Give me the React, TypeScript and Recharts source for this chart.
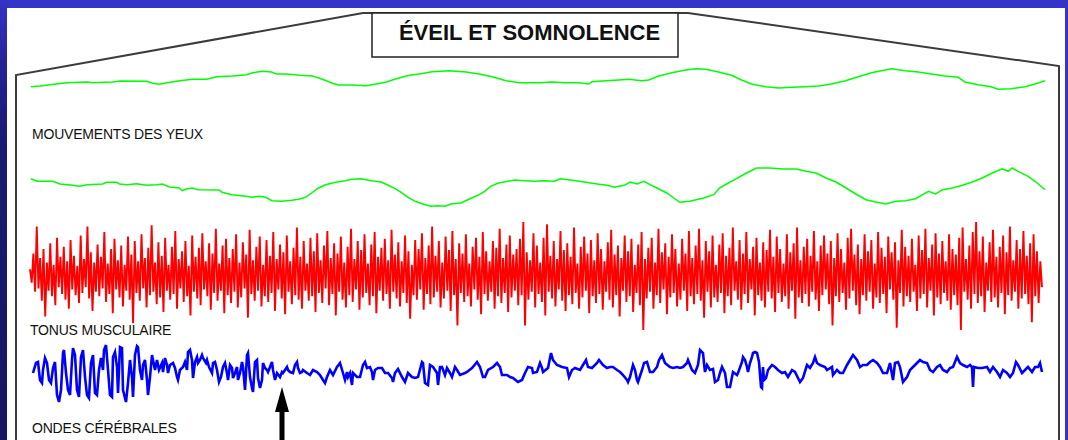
import React from 'react';
import { LineChart, Line, XAxis, YAxis } from 'recharts';

// Eye movements, upper channel: [sample, amplitude]
const eyeUpper: [number, number][] = [
  [0, 3.3], [9, 4], [19, 5.3], [36, 7.3], [56, 8], [62, 7.3], [82, 8], [89, 9], [116, 8.7], [122, 6.7],
  [129, 5.7], [136, 7.3], [149, 9.3], [162, 10.7], [176, 10.7], [186, 13.3], [202, 14], [216, 15.3], [222, 17.3], [232, 18.7],
  [241, 18], [246, 16], [256, 16], [269, 14.7], [282, 14], [292, 10.7], [302, 6.7], [308, 5], [322, 5], [336, 4.3],
  [346, 6], [356, 8], [366, 11.3], [379, 14.7], [389, 16], [402, 18.3], [419, 19.3], [436, 18], [449, 16], [462, 13.3],
  [476, 9.3], [489, 7.3], [509, 7.3], [522, 8], [536, 7.3], [549, 7.3], [559, 6], [562, 8.3], [576, 9.3], [589, 10],
  [599, 10.7], [612, 9.3], [619, 10], [629, 14], [642, 17.3], [656, 20], [666, 21.3], [676, 20.7], [689, 18], [702, 14.7],
  [712, 10], [722, 6], [736, 3.3], [749, 2], [762, 2.7], [776, 3.3], [789, 4], [802, 6], [816, 9.3], [829, 13.3],
  [842, 17.3], [856, 20], [862, 21.3], [876, 19.3], [889, 18], [902, 16], [916, 14], [929, 12.7], [936, 8], [949, 5.3],
  [962, 3.3], [969, 0.7], [982, 1.3], [996, 3.3], [1006, 6], [1016, 9.3],
];

// Eye movements, lower channel: [sample, amplitude]
const eyeLower: [number, number][] = [
  [0, 33.3], [6, 30.7], [22, 30.7], [29, 28], [42, 26.7], [49, 25.7], [56, 27.3], [72, 28], [76, 29.7], [86, 29.7],
  [89, 28], [96, 27.3], [106, 28.3], [116, 26.7], [126, 27.3], [132, 28], [139, 25], [149, 24], [152, 21.3], [156, 23],
  [162, 24], [168, 22.3], [189, 22], [192, 19.7], [202, 17.3], [216, 15.7], [222, 14.7], [229, 15.7], [236, 14.7], [242, 11.3],
  [252, 10.7], [262, 11.7], [269, 12.7], [276, 14.7], [282, 19], [289, 24], [296, 27.3], [306, 29.7], [316, 31.3], [322, 32.7],
  [332, 33.3], [342, 31.3], [352, 30], [359, 26.7], [366, 23.3], [372, 19.7], [379, 14.7], [386, 10.7], [396, 7.3], [402, 5.7],
  [409, 6.3], [416, 5.7], [422, 8], [432, 9], [439, 12.3], [449, 16.7], [456, 20.7], [462, 25.7], [469, 28.7], [479, 30.7],
  [486, 32], [496, 31.3], [506, 30.7], [516, 31.3], [526, 30.7], [532, 33.3], [542, 32], [556, 30], [569, 28], [579, 26.7],
  [586, 24.7], [596, 26.7], [602, 30], [609, 28], [616, 30.7], [622, 27.3], [629, 24], [639, 19], [646, 14], [652, 9.7],
  [662, 10.7], [676, 14], [686, 17.3], [692, 24], [699, 28], [709, 33.3], [719, 39], [729, 44], [742, 44], [756, 43],
  [769, 43], [779, 40.7], [789, 39], [799, 34], [809, 30], [819, 24], [829, 18], [839, 12.3], [849, 10], [859, 8],
  [869, 10.7], [879, 11.3], [889, 13.3], [896, 17.3], [902, 20.7], [909, 18], [916, 22.3], [926, 24], [936, 26.7], [946, 30],
  [956, 34], [966, 39], [976, 43.3], [982, 40.7], [986, 44], [992, 40.7], [1002, 35.7], [1009, 30.7], [1019, 22.3],
];

// Muscle tone, alternating swings around the baseline (one value per sample)
const muscleTone: number[] = [
  8, -4, 22, -12, 46, -9, 18, -20, 26, -34, 14, -11, 31, -16, 12, -24, 36, -8, 19, -14,
  28, -19, 15, -27, 34, -10, 20, -15, 11, -22, 38, -13, 17, -8, 46, -18, 23, -29, 14, -12,
  30, -16, 19, -9, 41, -21, 13, -14, 26, -31, 35, -10, 16, -17, 29, -25, 12, -11, 37, -19,
  21, -40, 33, -13, 15, -20, 39, -9, 18, -26, 27, -15, 47, -12, 14, -23, 32, -17, 20, -30,
  36, -11, 12, -19, 28, -14, 42, -27, 17, -9, 24, -21, 33, -16, 11, -33, 38, -12, 19, -18,
  27, -24, 40, -10, 15, -16, 31, -28, 22, -13, 44, -20, 13, -11, 29, -31, 35, -15, 18, -22,
  26, -12, 39, -26, 14, -17, 32, -9, 21, -35, 43, -14, 16, -20, 28, -11, 37, -25, 12, -16,
  34, -21, 20, -13, 41, -29, 17, -10, 30, -18, 23, -32, 38, -12, 15, -23, 27, -15, 45, -19,
  19, -27, 33, -11, 13, -20, 36, -16, 24, -30, 40, -13, 16, -22, 29, -9, 42, -24, 18, -14,
  31, -33, 22, -12, 37, -19, 14, -26, 28, -15, 44, -21, 17, -10, 33, -28, 25, -17, 39, -13,
  13, -24, 30, -16, 41, -31, 19, -11, 27, -20, 35, -14, 16, -27, 43, -12, 21, -18, 32, -25,
  15, -13, 38, -22, 24, -36, 12, -15, 34, -19, 26, -10, 40, -28, 18, -14, 29, -23, 46, -17,
  20, -12, 33, -26, 14, -18, 37, -11, 25, -29, 42, -15, 17, -42, 31, -13, 22, -21, 39, -16,
  13, -25, 28, -10, 36, -19, 19, -32, 41, -14, 24, -20, 15, -12, 33, -27, 27, -16, 44, -22,
  18, -13, 30, -30, 38, -17, 21, -11, 26, -24, 35, -15, 50, -42, 23, -19, 16, -12, 40, -26,
  29, -14, 14, -21, 36, -33, 48, -12, 20, -18, 33, -25, 17, -10, 42, -20, 25, -29, 31, -15,
  19, -23, 45, -13, 13, -27, 28, -17, 37, -11, 22, -31, 34, -16, 16, -22, 40, -14, 26, -28,
  15, -12, 32, -19, 43, -26, 21, -15, 29, -34, 18, -11, 38, -21, 24, -16, 35, -30, 12, -13,
  30, -24, 41, -46, 17, -18, 27, -12, 36, -27, 14, -15, 44, -22, 23, -10, 31, -32, 19, -17,
  39, -13, 26, -25, 13, -19, 35, -11, 22, -29, 42, -16, 18, -23, 29, -14, 44, -20, 16, -35,
  33, -12, 24, -26, 38, -17, 12, -21, 30, -13, 40, -31, 20, -16, 27, -24, 45, -11, 15, -19,
  34, -28, 22, -14, 41, -22, 17, -10, 28, -33, 36, -15, 14, -20, 32, -26, 25, -12, 43, -18,
  19, -30, 37, -13, 26, -21, 13, -16, 39, -27, 23, -11, 31, -36, 45, -17, 16, -22, 28, -14,
  35, -25, 20, -12, 42, -19, 15, -29, 29, -15, 38, -10, 22, -23, 33, -42, 18, -16, 40, -21,
  26, -13, 14, -28, 36, -18, 44, -11, 21, -24, 30, -32, 17, -15, 39, -20, 24, -12, 34, -27,
  13, -17, 41, -22, 27, -14, 19, -31, 37, -10, 23, -19, 32, -44, 16, -13, 43, -25, 28, -16,
  20, -21, 35, -12, 12, -29, 38, -18, 25, -14, 44, -26, 18, -11, 30, -33, 40, -17, 22, -23,
  33, -13, 15, -20, 39, -28, 26, -15, 21, -24, 36, -46, 45, -12, 17, -19, 29, -27, 41, -14,
  50, -22, 24, -16, 37, -30, 14, -11, 32, -21, 43, -17, 19, -26, 28, -13, 38, -32, 23, -15,
  46, -20, 16, -12, 34, -27, 26, -18, 42, -14, 20, -23, 31, -39, 39, -16, 24, -22, 15, -8,
];

// Brain waves (EEG): [sample, amplitude]
const brainWaves: [number, number][] = [
  [2, 37], [5, 47], [7, 48], [9, 30], [11, 27], [12, 40], [14, 52], [16, 47], [18, 30], [20, 27],
  [22, 42], [24, 48], [26, 15], [28, 8], [30, 20], [32, 57], [33, 60], [35, 37], [37, 20], [39, 15],
  [41, 50], [42, 62], [44, 55], [46, 20], [48, 13], [50, 53], [52, 60], [54, 33], [56, 15], [58, 12],
  [60, 47], [62, 55], [64, 17], [66, 15], [68, 40], [70, 52], [72, 40], [73, 60], [75, 65], [77, 40],
  [79, 15], [81, 13], [82, 53], [84, 58], [86, 43], [87, 17], [89, 63], [91, 62], [92, 20], [95, 8],
  [97, 27], [99, 50], [101, 33], [102, 13], [104, 55], [106, 64], [107, 63], [109, 40], [111, 30], [112, 45],
  [114, 50], [116, 30], [117, 15], [119, 33], [121, 55], [122, 50], [124, 40], [126, 50], [128, 40], [131, 47],
  [132, 38], [134, 52], [136, 45], [137, 37], [139, 45], [142, 47], [144, 42], [146, 33], [147, 30], [149, 40],
  [152, 43], [154, 48], [156, 40], [157, 58], [159, 60], [161, 50], [162, 32], [164, 48], [166, 53], [167, 47],
  [169, 50], [171, 55], [172, 52], [175, 47], [176, 50], [178, 43], [181, 37], [182, 47], [184, 48], [186, 40],
  [188, 28], [190, 33], [192, 43], [194, 47], [196, 37], [197, 30], [199, 45], [201, 42], [202, 32], [204, 37],
  [206, 43], [207, 30], [209, 37], [211, 48], [212, 43], [214, 20], [216, 55], [217, 57], [219, 33], [221, 22],
  [222, 18], [224, 48], [226, 50], [227, 32], [229, 22], [231, 30], [232, 47], [234, 42], [236, 40], [237, 38],
  [239, 43], [241, 48], [242, 40], [244, 30], [246, 37], [249, 33], [251, 38], [252, 37], [256, 43], [257, 40],
  [259, 38], [262, 37], [264, 45], [266, 48], [267, 42], [269, 37], [271, 38], [272, 40], [276, 37], [279, 35],
  [282, 40], [286, 38], [289, 35], [292, 30], [294, 27], [296, 33], [299, 40], [302, 35], [306, 43], [309, 47],
  [312, 37], [314, 30], [316, 38], [317, 33], [319, 37], [321, 25], [322, 37], [326, 33], [329, 33], [332, 45],
  [334, 48], [336, 42], [339, 43], [341, 38], [342, 30], [344, 40], [347, 42], [351, 42], [354, 37], [357, 37],
  [361, 32], [362, 28], [364, 37], [367, 41], [371, 33], [374, 28], [377, 37], [381, 33], [384, 32], [387, 33],
  [391, 48], [392, 47], [394, 27], [397, 25], [399, 45], [402, 43], [406, 37], [407, 25], [409, 43], [411, 43],
  [414, 35], [416, 42], [419, 37], [421, 33], [424, 43], [426, 40], [429, 35], [434, 37], [436, 38], [441, 42],
  [446, 48], [449, 43], [452, 33], [454, 33], [457, 40], [462, 43], [466, 47], [469, 43], [471, 35], [476, 35],
  [479, 33], [482, 32], [487, 28], [491, 30], [494, 37], [497, 43], [501, 42], [502, 37], [506, 38], [509, 47],
  [511, 42], [512, 38], [517, 42], [520, 57], [522, 50], [526, 45], [531, 43], [536, 42], [538, 33], [541, 40],
  [544, 42], [549, 40], [552, 45], [555, 50], [557, 43], [561, 42], [566, 47], [568, 50], [572, 45], [576, 42],
  [579, 43], [582, 43], [586, 40], [589, 38], [592, 35], [596, 30], [597, 28], [599, 33], [602, 45], [604, 40],
  [606, 30], [607, 28], [611, 40], [613, 47], [616, 48], [619, 38], [622, 38], [626, 43], [628, 50], [631, 55],
  [634, 47], [639, 43], [642, 42], [646, 43], [649, 42], [652, 43], [656, 47], [657, 50], [661, 40], [664, 37],
  [667, 45], [669, 60], [672, 57], [673, 47], [674, 38], [676, 45], [679, 40], [682, 41], [684, 28], [687, 30],
  [689, 37], [691, 43], [694, 37], [696, 23], [699, 23], [702, 38], [706, 35], [707, 37], [711, 48], [712, 53],
  [714, 50], [716, 43], [717, 38], [719, 47], [721, 53], [722, 57], [724, 58], [726, 57], [728, 48], [730, 23],
  [731, 22], [732, 43], [733, 30], [735, 32], [737, 40], [741, 45], [744, 43], [747, 40], [751, 37], [754, 38],
  [757, 33], [761, 40], [764, 38], [769, 28], [772, 32], [776, 45], [779, 42], [782, 47], [784, 53], [786, 47],
  [789, 45], [794, 43], [796, 40], [801, 43], [802, 35], [806, 40], [809, 37], [812, 37], [816, 45], [819, 50],
  [822, 55], [826, 50], [829, 43], [832, 45], [836, 45], [839, 48], [842, 50], [846, 47], [849, 43], [852, 37],
  [856, 37], [859, 47], [862, 30], [864, 47], [867, 48], [869, 43], [872, 28], [876, 33], [879, 40], [882, 43],
  [886, 47], [889, 50], [892, 48], [896, 47], [899, 40], [902, 38], [906, 43], [909, 45], [912, 40], [916, 38],
  [919, 42], [922, 43], [926, 53], [929, 47], [932, 45], [936, 43], [939, 45], [941, 43], [942, 23], [943, 43],
  [947, 42], [951, 42], [956, 43], [959, 38], [962, 43], [966, 38], [969, 33], [972, 40], [976, 37], [979, 33],
  [982, 37], [985, 48], [987, 45], [991, 37], [994, 40], [997, 43], [1001, 38], [1004, 43], [1007, 43], [1009, 47],
  [1011, 38],
];

// Text
const title = 'ÉVEIL ET SOMNOLENCE';
const labelEyes = 'MOUVEMENTS DES YEUX';
const labelMuscle = 'TONUS MUSCULAIRE';
const labelBrain = 'ONDES CÉRÉBRALES';

type Row = { t: number; v: number };
const pairsToRows = (pairs: [number, number][]): Row[] => pairs.map(([t, v]) => ({ t, v }));
const seriesToRows = (values: number[]): Row[] => values.map((v, t) => ({ t, v }));

const FONT = '"Liberation Sans", Arial, sans-serif';
const PAD = 4;

type TraceProps = {
  rows: Row[];
  left: number;
  top: number;
  width: number;
  height: number;
  xDomain: [number, number];
  yDomain: [number, number];
  color: string;
  strokeWidth: number;
};

function Trace({ rows, left, top, width, height, xDomain, yDomain, color, strokeWidth }: TraceProps) {
  return (
    <div style={{ position: 'absolute', left: left - PAD, top: top - PAD }}>
      <LineChart
        width={width + PAD * 2}
        height={height + PAD * 2}
        data={rows}
        margin={{ top: PAD, right: PAD, bottom: PAD, left: PAD }}
      >
        <XAxis type="number" dataKey="t" domain={xDomain} hide />
        <YAxis type="number" domain={yDomain} hide />
        <Line
          type="linear"
          dataKey="v"
          stroke={color}
          strokeWidth={strokeWidth}
          dot={false}
          isAnimationActive={false}
          strokeLinejoin="miter"
        />
      </LineChart>
    </div>
  );
}

export default function App() {
  return (
    <div
      style={{
        position: 'absolute',
        left: 0,
        top: 0,
        width: 1068,
        height: 440,
        overflow: 'hidden',
        background: '#3434c8',
        fontFamily: FONT,
      }}
    >
      {/* darker left edge of the slide background */}
      <div
        style={{
          position: 'absolute',
          left: 0,
          top: 0,
          width: 8,
          height: 440,
          background: 'linear-gradient(to bottom, #3333c6 0px, #24249a 60px, #1a1a72 140px, #161662 440px)',
        }}
      />
      {/* white panel */}
      <div style={{ position: 'absolute', left: 7, top: 8, width: 1058, height: 432, background: '#ffffff' }} />

      <svg width={1068} height={440} style={{ position: 'absolute', left: 0, top: 0 }}>
        <polyline
          points="16,440 16,75 363,13 688,13 1059,66 1059,440"
          fill="none"
          stroke="#3c3c3c"
          strokeWidth={2}
        />
        <rect x={372} y={13} width={306} height={44} fill="#ffffff" stroke="#222222" strokeWidth={1.5} />
        <text x={529.5} y={40} textAnchor="middle" fontFamily={FONT} fontWeight="bold" fontSize={22} fill="#111111">
          {title}
        </text>
        <text x={32} y={139} fontFamily={FONT} fontSize={14} letterSpacing={-0.2} fill="#111111">
          {labelEyes}
        </text>
        <text x={30} y={335} fontFamily={FONT} fontSize={14} letterSpacing={-0.2} fill="#111111">
          {labelMuscle}
        </text>
        <text x={32} y={433} fontFamily={FONT} fontSize={14} letterSpacing={-0.2} fill="#111111">
          {labelBrain}
        </text>
      </svg>

      <Trace rows={pairsToRows(eyeUpper)} left={31} top={60} width={1014} height={30}
        xDomain={[0, 1014]} yDomain={[0, 30]} color="#00ff00" strokeWidth={1.5} />
      <Trace rows={pairsToRows(eyeLower)} left={31} top={158} width={1014} height={54}
        xDomain={[0, 1014]} yDomain={[0, 54]} color="#00ff00" strokeWidth={1.5} />
      <Trace rows={seriesToRows(muscleTone)} left={30} top={222} width={1012} height={108}
        xDomain={[0, 599]} yDomain={[-46, 50]} color="#ff0000" strokeWidth={1.9} />
      <Trace rows={pairsToRows(brainWaves)} left={31} top={340} width={1014} height={70}
        xDomain={[0, 1014]} yDomain={[0, 70]} color="#0000ff" strokeWidth={2.6} />

      {/* onset marker */}
      <svg width={1068} height={440} style={{ position: 'absolute', left: 0, top: 0, pointerEvents: 'none' }}>
        <polygon
          points="282,387 289,412 284.5,412 284.5,440 279.5,440 279.5,412 275,412"
          fill="#000000"
        />
      </svg>
    </div>
  );
}
